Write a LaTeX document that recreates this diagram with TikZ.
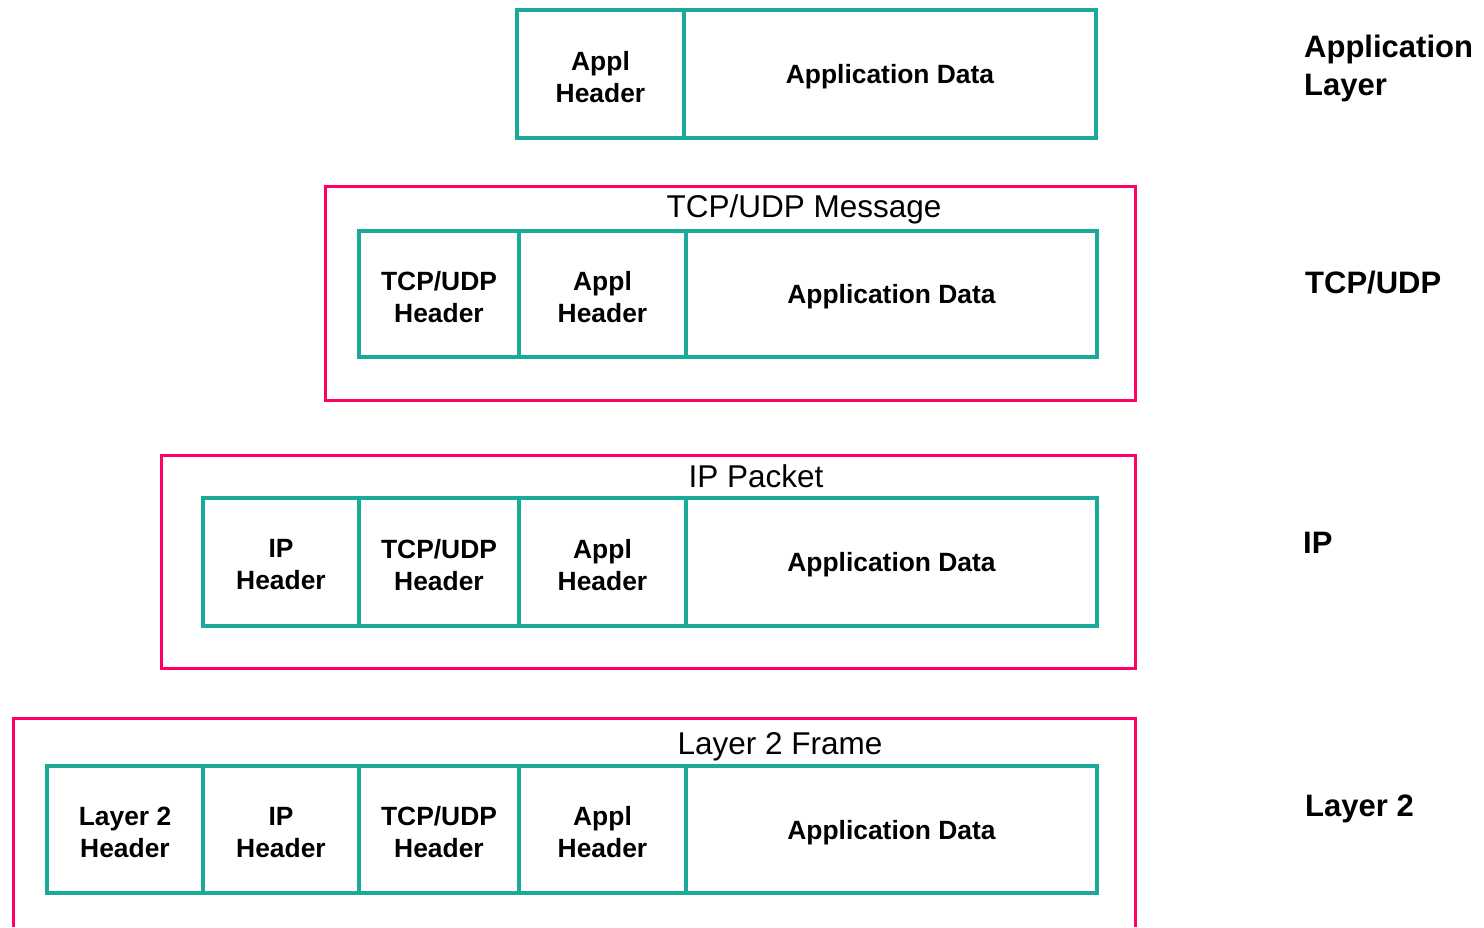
\documentclass[tikz,border=0pt]{standalone}
\usepackage{fontspec}
\setmainfont{Liberation Sans}
\definecolor{cellteal}{RGB}{26,170,154}
\definecolor{framepink}{RGB}{255,0,102}
\begin{document}
\begin{tikzpicture}[x=1pt,y=-1pt,
  cell/.style={draw=cellteal, line width=3.5pt, rectangle, anchor=north west,
    inner sep=0pt, outer sep=0pt},
  celltext/.style={align=center, inner sep=0pt, yshift=-3pt,
    font=\fontsize{26.4}{32}\selectfont\bfseries},
  frame/.style={draw=framepink, line width=3pt, rectangle, anchor=north west,
    inner sep=0pt, outer sep=0pt},
  caption/.style={font=\fontsize{31.5}{36}\selectfont, inner sep=0pt},
  layer/.style={font=\fontsize{31}{38}\selectfont\bfseries, align=left,
    anchor=west, inner sep=0pt}]
\useasboundingbox (0,0) rectangle (1484,927);

% Application layer
\node[cell, minimum width=167pt, minimum height=128pt, label={[celltext]center:Appl\\Header}] (a1) at (517,10) {};
\node[cell, minimum width=412pt, minimum height=128pt, label={[celltext]center:Application Data}] (a2) at (684,10) {};

% TCP/UDP message
\node[frame, minimum width=810pt, minimum height=214pt] (tf) at (325,186) {};
\node[caption] (tcap) at (804,209) {TCP/UDP Message};
\node[cell, minimum width=160pt, minimum height=126pt, label={[celltext]center:TCP/UDP\\Header}] (t1) at (359,231) {};
\node[cell, minimum width=167pt, minimum height=126pt, label={[celltext]center:Appl\\Header}] (t2) at (519,231) {};
\node[cell, minimum width=411pt, minimum height=126pt, label={[celltext]center:Application Data}] (t3) at (686,231) {};

% IP packet
\node[frame, minimum width=974pt, minimum height=213pt] (pf) at (161,455) {};
\node[caption] (pcap) at (756,476) {IP Packet};
\node[cell, minimum width=156pt, minimum height=128pt, label={[celltext]center:IP\\Header}] (p1) at (203,498) {};
\node[cell, minimum width=160pt, minimum height=128pt, label={[celltext]center:TCP/UDP\\Header}] (p2) at (359,498) {};
\node[cell, minimum width=167pt, minimum height=128pt, label={[celltext]center:Appl\\Header}] (p3) at (519,498) {};
\node[cell, minimum width=411pt, minimum height=128pt, label={[celltext]center:Application Data}] (p4) at (686,498) {};

% Layer 2 frame (runs past the lower edge)
\coordinate (lfa) at (13,927);
\coordinate (lfb) at (1135,927);
\draw[draw=framepink, line width=3pt] (lfa) -- (13,718) -- (1135,718) -- (lfb);
\node[caption] (lcap) at (780,747) {Layer 2 Frame};
\node[cell, minimum width=156pt, minimum height=127pt, label={[celltext]center:Layer 2\\Header}] (l1) at (47,766) {};
\node[cell, minimum width=156pt, minimum height=127pt, label={[celltext]center:IP\\Header}] (l2) at (203,766) {};
\node[cell, minimum width=160pt, minimum height=127pt, label={[celltext]center:TCP/UDP\\Header}] (l3) at (359,766) {};
\node[cell, minimum width=167pt, minimum height=127pt, label={[celltext]center:Appl\\Header}] (l4) at (519,766) {};
\node[cell, minimum width=411pt, minimum height=127pt, label={[celltext]center:Application Data}] (l5) at (686,766) {};

% Layer names
\node[layer] (n1) at (1304,68) {Application\\Layer};
\node[layer] (n2) at (1305,283) {TCP/UDP};
\node[layer] (n3) at (1303,543) {IP};
\node[layer] (n4) at (1305,809) {Layer 2};
\end{tikzpicture}
\end{document}
